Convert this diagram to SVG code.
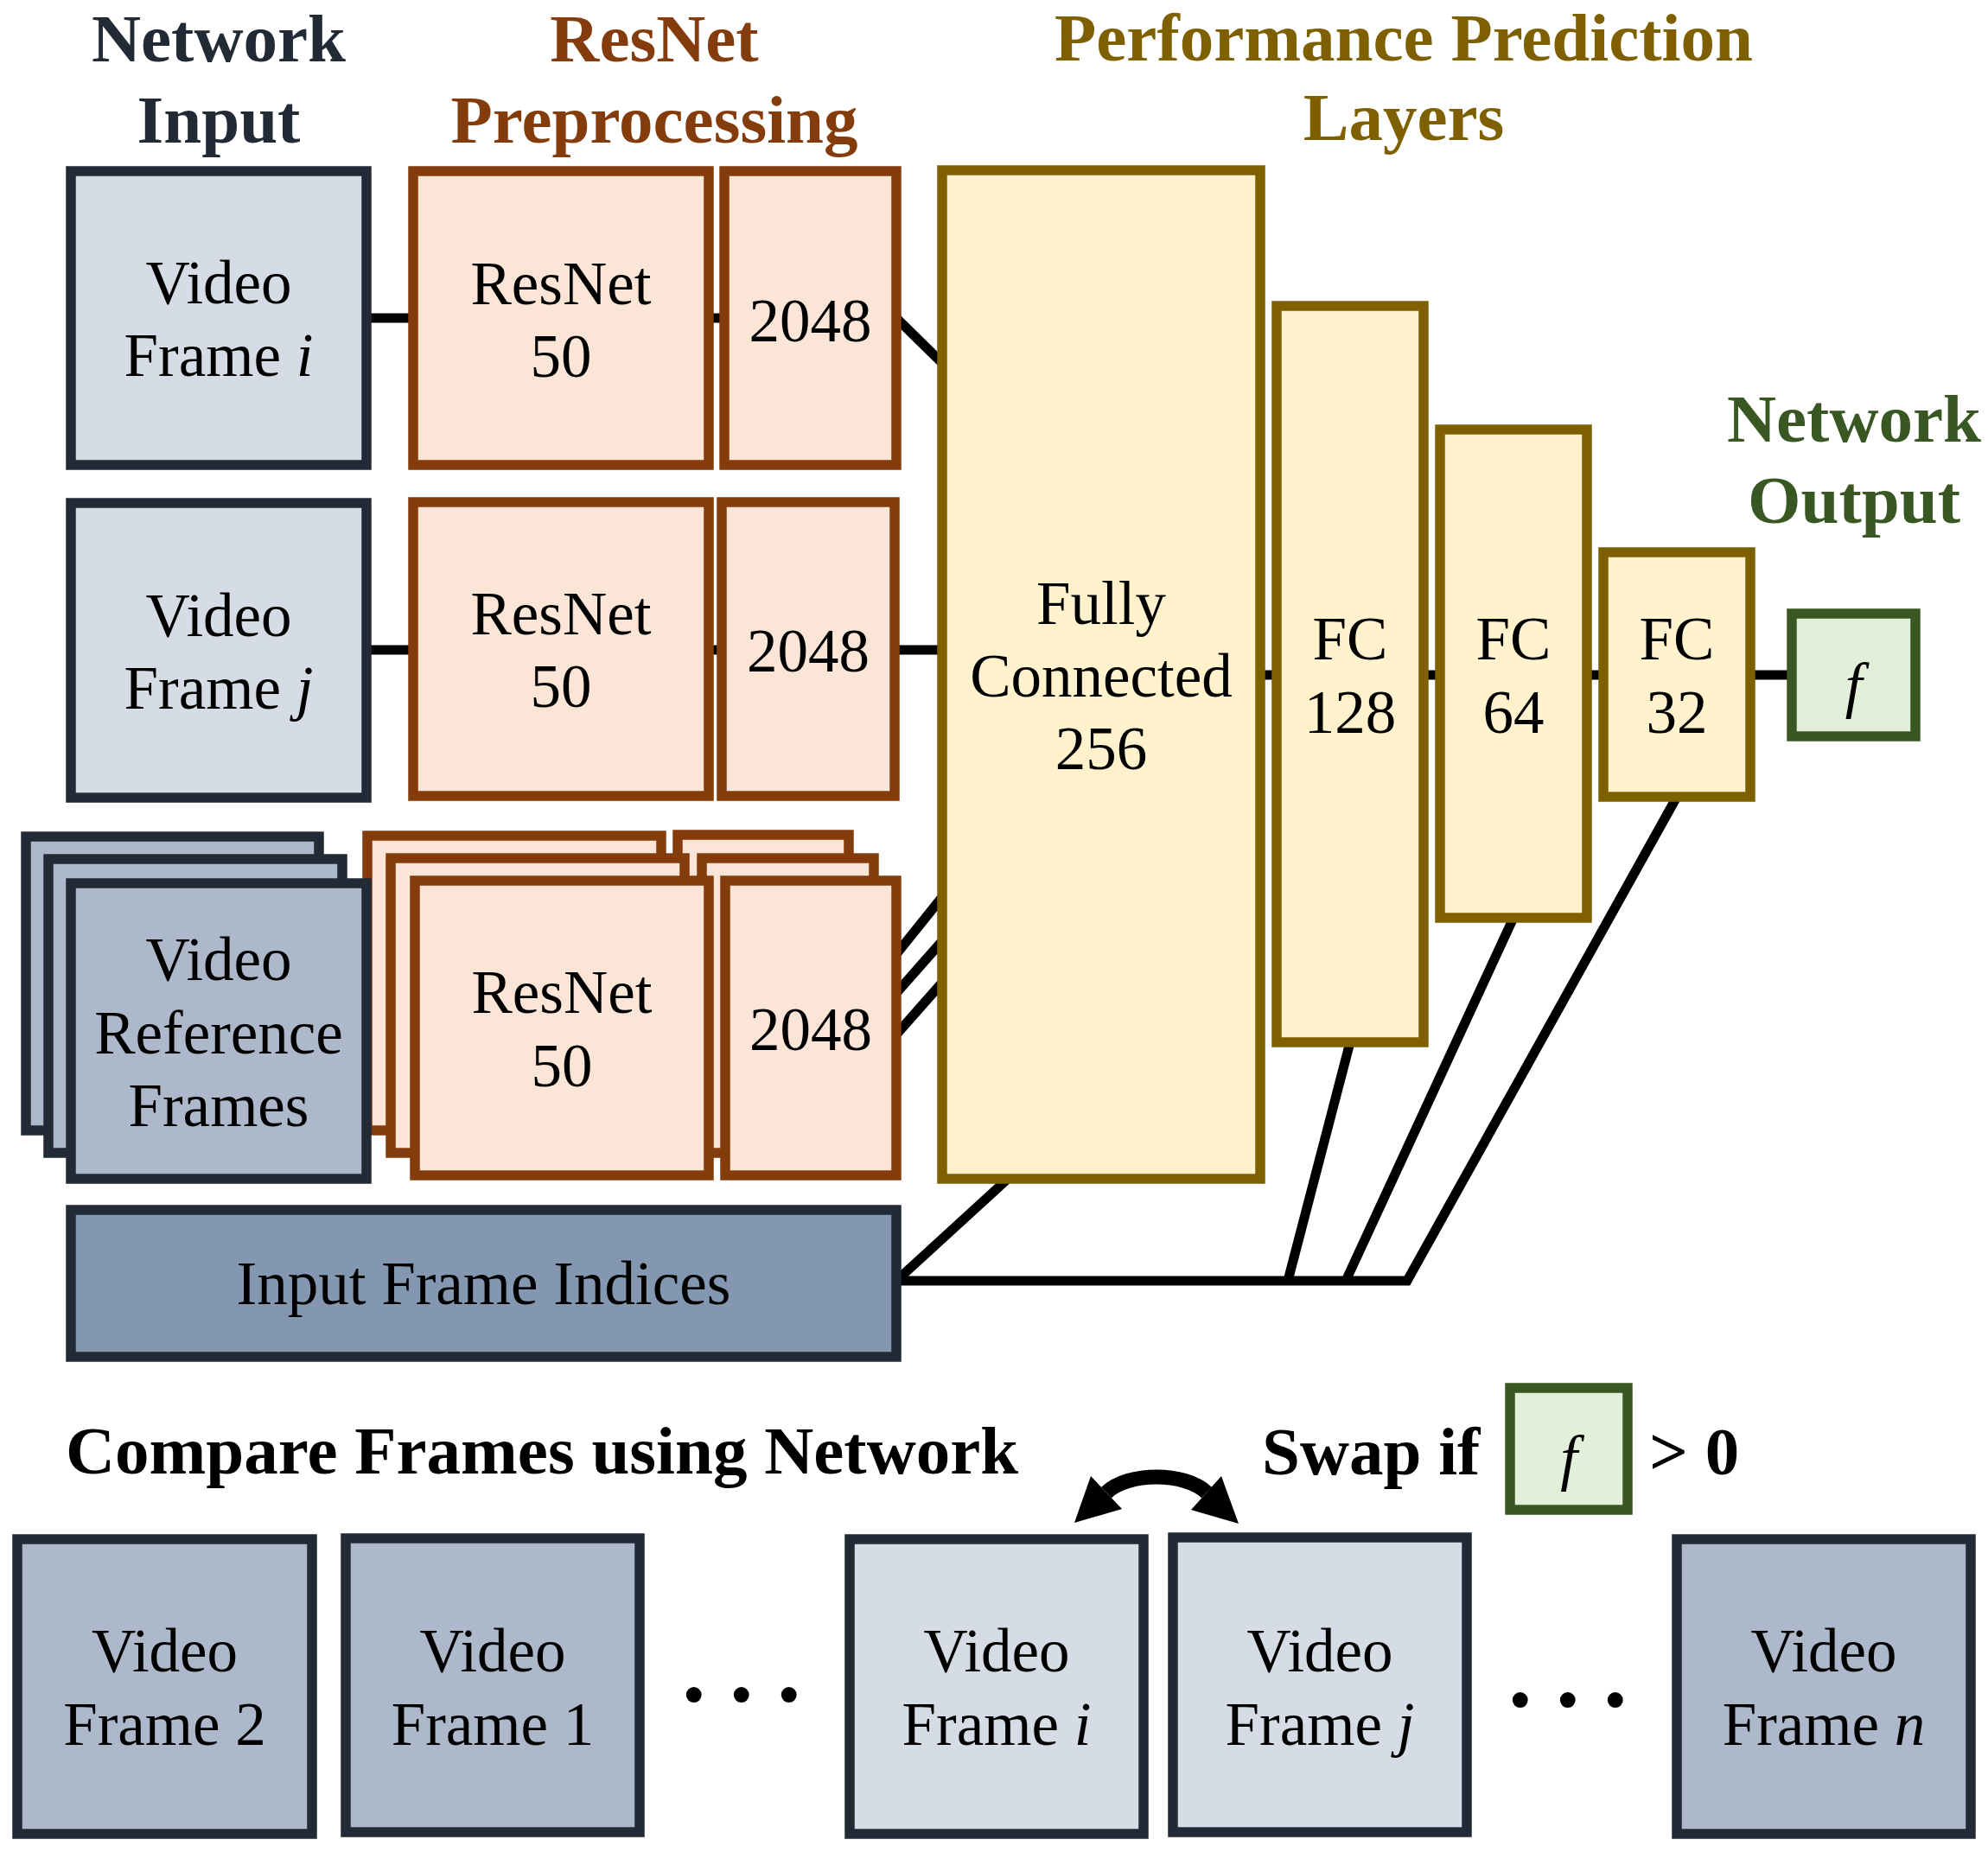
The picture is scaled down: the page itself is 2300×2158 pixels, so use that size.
<svg xmlns="http://www.w3.org/2000/svg" width="2300" height="2158" viewBox="0 0 2300 2158">
<style>
text{font-family:"Liberation Serif","Times New Roman",serif;fill:#000}
.t{font-size:71px;text-anchor:middle}
.h{font-size:79px;font-weight:bold;text-anchor:middle}
.b{font-size:79px;font-weight:bold}
.it{font-style:italic}
.fl{fill:#d6dce5;stroke:#222a35;stroke-width:11.5}
.fm{fill:#adb9ca;stroke:#222a35;stroke-width:11.5}
.fd{fill:#8497b0;stroke:#222a35;stroke-width:11.5}
.rn{fill:#fbe5d6;stroke:#843c0c;stroke-width:11.5}
.fc{fill:#fff2cc;stroke:#7f6000;stroke-width:11.5}
.fo{fill:#e2f0d9;stroke:#385723;stroke-width:11.5}
.c line,.c polyline{stroke:#000;stroke-width:11;fill:none}
</style>
<rect width="2300" height="2158" fill="#fff"/>
<g id="titles">
<text class="h" x="253" y="71" style="fill:#222a35">Network</text>
<text class="h" x="253" y="165" style="fill:#222a35">Input</text>
<text class="h" x="757" y="71" style="fill:#843c0c">ResNet</text>
<text class="h" x="757" y="165" style="fill:#843c0c">Preprocessing</text>
<text class="h" x="1624" y="70" style="fill:#7f6000">Performance Prediction</text>
<text class="h" x="1624" y="162" style="fill:#7f6000">Layers</text>
<text class="h" x="2145" y="511" style="fill:#385723">Network</text>
<text class="h" x="2145" y="605" style="fill:#385723">Output</text>
</g>
<g id="connectors" class="c">
<line x1="424" y1="368" x2="478" y2="368"/>
<line x1="820" y1="368" x2="838" y2="368"/>
<line x1="1037" y1="368" x2="1090" y2="420"/>
<line x1="424" y1="752" x2="478" y2="752"/>
<line x1="820" y1="752" x2="835" y2="752"/>
<line x1="1035" y1="752" x2="1090" y2="752"/>
<line x1="369" y1="1136" x2="425" y2="1136"/>
<line x1="765" y1="1136" x2="784" y2="1136"/>
<line x1="396" y1="1162" x2="452" y2="1162"/>
<line x1="792" y1="1162" x2="812" y2="1162"/>
<line x1="424" y1="1191" x2="480" y2="1191"/>
<line x1="820" y1="1191" x2="839" y2="1191"/>
<line x1="1037" y1="1104" x2="1090" y2="1038"/>
<line x1="1037" y1="1149" x2="1090" y2="1089"/>
<line x1="1037" y1="1197" x2="1090" y2="1137"/>
<line x1="1458" y1="781" x2="1477" y2="781"/>
<line x1="1647" y1="781" x2="1666" y2="781"/>
<line x1="1836" y1="781" x2="1855" y2="781"/>
<line x1="2025" y1="781" x2="2073" y2="781"/>
<line x1="1037" y1="1482" x2="1166" y2="1364"/>
<polyline points="1037,1482 1628,1482 1940,922"/>
<line x1="1490" y1="1482" x2="1562" y2="1206"/>
<line x1="1557" y1="1482" x2="1751" y2="1062"/>
</g>
<g id="frame_i"><rect class="fl" x="82" y="198" width="342" height="340"/><text class="t" x="253" y="351">Video</text><text class="t" x="253" y="435">Frame <tspan class="it">i</tspan></text></g>
<g id="resnet_i"><rect class="rn" x="478" y="198" width="342" height="340"/><text class="t" x="649" y="352">ResNet</text><text class="t" x="649" y="436">50</text></g>
<g id="feat_i"><rect class="rn" x="838" y="198" width="199" height="340"/><text class="t" x="937.5" y="395">2048</text></g>
<g id="frame_j"><rect class="fl" x="82" y="582" width="342" height="341"/><text class="t" x="253" y="736">Video</text><text class="t" x="253" y="820">Frame <tspan class="it">j</tspan></text></g>
<g id="resnet_j"><rect class="rn" x="478" y="581" width="342" height="340"/><text class="t" x="649" y="734">ResNet</text><text class="t" x="649" y="818">50</text></g>
<g id="feat_j"><rect class="rn" x="835" y="581" width="200" height="340"/><text class="t" x="935" y="777">2048</text></g>
<g id="ref_back"><rect class="fm" x="30" y="968" width="339" height="340"/></g>
<g id="resnet_ref_back"><rect class="rn" x="425" y="967" width="340" height="341"/></g>
<g id="feat_ref_back"><rect class="rn" x="784" y="966" width="198" height="342"/></g>
<g id="ref_mid"><rect class="fm" x="56" y="994" width="340" height="340"/></g>
<g id="resnet_ref_mid"><rect class="rn" x="452" y="993" width="340" height="341"/></g>
<g id="feat_ref_mid"><rect class="rn" x="812" y="993" width="199" height="341"/></g>
<g id="ref_front"><rect class="fm" x="82" y="1022" width="342" height="342"/><text class="t" x="253" y="1134">Video</text><text class="t" x="253" y="1219">Reference</text><text class="t" x="253" y="1303">Frames</text></g>
<g id="resnet_ref"><rect class="rn" x="480" y="1019" width="340" height="341"/><text class="t" x="650" y="1172">ResNet</text><text class="t" x="650" y="1257">50</text></g>
<g id="feat_ref"><rect class="rn" x="839" y="1019" width="198" height="341"/><text class="t" x="938" y="1215">2048</text></g>
<g id="indices"><rect class="fd" x="82" y="1400" width="955" height="170"/><text class="t" x="559.5" y="1509">Input Frame Indices</text></g>
<g id="fc256"><rect class="fc" x="1090" y="197" width="368" height="1167"/><text class="t" x="1274" y="722">Fully</text><text class="t" x="1274" y="806">Connected</text><text class="t" x="1274" y="890">256</text></g>
<g id="fc128"><rect class="fc" x="1477" y="354" width="170" height="852"/><text class="t" x="1562" y="763">FC</text><text class="t" x="1562" y="848">128</text></g>
<g id="fc64"><rect class="fc" x="1666" y="497" width="170" height="565"/><text class="t" x="1751" y="763">FC</text><text class="t" x="1751" y="848">64</text></g>
<g id="fc32"><rect class="fc" x="1855" y="639" width="170" height="283"/><text class="t" x="1940" y="763">FC</text><text class="t" x="1940" y="848">32</text></g>
<g id="output"><rect class="fo" x="2073" y="710" width="143" height="142"/><text class="t it" x="2144.5" y="817">f</text></g>
<g id="bottom">
<text class="b" x="76" y="1705">Compare Frames using Network</text>
<text class="b" x="1460" y="1706">Swap if</text>
<rect class="fo" x="1747" y="1606" width="136" height="141"/>
<text class="t it" x="1815" y="1711">f</text>
<text class="b" x="1908" y="1706">&gt; 0</text>
<g id="swap_arrow">
<path d="M1280,1727 C1305,1703 1371,1703 1396,1727" fill="none" stroke="#000" stroke-width="17"/>
<polygon points="1243,1762 1262,1708 1298,1746" fill="#000"/>
<polygon points="1433,1763 1413,1708 1378,1747" fill="#000"/>
</g>
</g>
<g id="frame2"><rect class="fm" x="20" y="1781" width="341" height="341"/><text class="t" x="190.5" y="1934">Video</text><text class="t" x="190.5" y="2019">Frame 2</text></g>
<g id="frame1"><rect class="fm" x="400" y="1780" width="340" height="340"/><text class="t" x="570" y="1934">Video</text><text class="t" x="570" y="2019">Frame 1</text></g>
<text x="789" y="1968" style="font-size:110px;font-weight:bold;letter-spacing:27.5px">...</text>
<g id="frame_i_list"><rect class="fl" x="983" y="1781" width="340" height="341"/><text class="t" x="1153" y="1934">Video</text><text class="t" x="1153" y="2019">Frame <tspan class="it">i</tspan></text></g>
<g id="frame_j_list"><rect class="fl" x="1357" y="1779" width="340" height="341"/><text class="t" x="1527" y="1934">Video</text><text class="t" x="1527" y="2019">Frame <tspan class="it">j</tspan></text></g>
<text x="1745" y="1974" style="font-size:110px;font-weight:bold;letter-spacing:27.5px">...</text>
<g id="frame_n"><rect class="fm" x="1940" y="1781" width="340" height="341"/><text class="t" x="2110" y="1934">Video</text><text class="t" x="2110" y="2019">Frame <tspan class="it">n</tspan></text></g>
</svg>
